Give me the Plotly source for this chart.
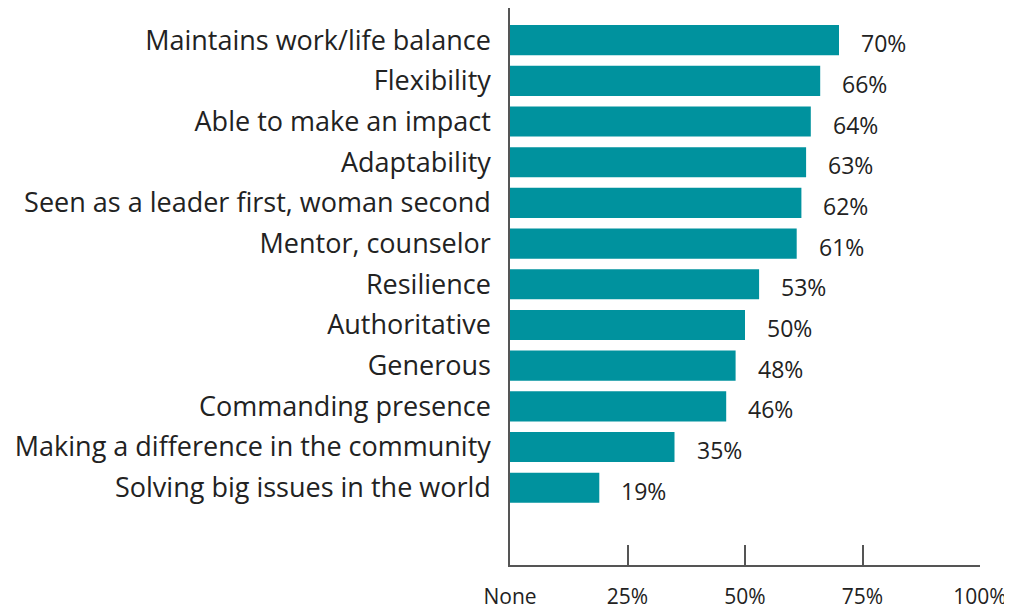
import plotly.graph_objects as go

categories = [
    "Maintains work/life balance",
    "Flexibility",
    "Able to make an impact",
    "Adaptability",
    "Seen as a leader first, woman second",
    "Mentor, counselor",
    "Resilience",
    "Authoritative",
    "Generous",
    "Commanding presence",
    "Making a difference in the community",
    "Solving big issues in the world",
]
values = [70, 66, 64, 63, 62, 61, 53, 50, 48, 46, 35, 19]
tick_vals = [0, 25, 50, 75, 100]
tick_text = ["None", "25%", "50%", "75%", "100%"]

FONT = "Open Sans"
BAR = "#00929E"
AXIS = "#555555"
TEXT = "#222222"

fig = go.Figure()
fig.add_trace(go.Bar(
    x=values, y=categories, orientation="h",
    marker=dict(color=BAR, line=dict(width=0)),
    width=0.74,
    hoverinfo="skip",
))

for c, v in zip(categories, values):
    fig.add_annotation(
        x=v, y=c, xref="x", yref="y", text=f"{v}%",
        showarrow=False, xanchor="left", yanchor="middle",
        xshift=20, yshift=-3,
        font=dict(family=FONT, size=23, color=TEXT),
    )

fig.update_layout(
    width=1004, height=601,
    margin=dict(l=502, r=32, t=0, b=44, autoexpand=False),
    paper_bgcolor="white", plot_bgcolor="white",
    showlegend=False,
    bargap=0.26,
)
fig.update_xaxes(
    range=[0, 100], tickvals=tick_vals, ticktext=tick_text,
    ticks="inside", ticklen=20, tickwidth=1.5, tickcolor=AXIS,
    showline=True, linecolor=AXIS, linewidth=1.5,
    showgrid=False, zeroline=False, automargin=False,
    tickfont=dict(family=FONT, size=21, color=TEXT),
    ticklabelstandoff=12,
)
fig.update_yaxes(
    type="category", categoryorder="array", categoryarray=categories,
    range=[12.9, -0.79],
    showline=True, linecolor=AXIS, linewidth=1.5,
    ticks="", showgrid=False, zeroline=False, automargin=False,
    tickfont=dict(family=FONT, size=27, color=TEXT),
    ticklabelstandoff=12,
)

fig.write_html("out.html")
